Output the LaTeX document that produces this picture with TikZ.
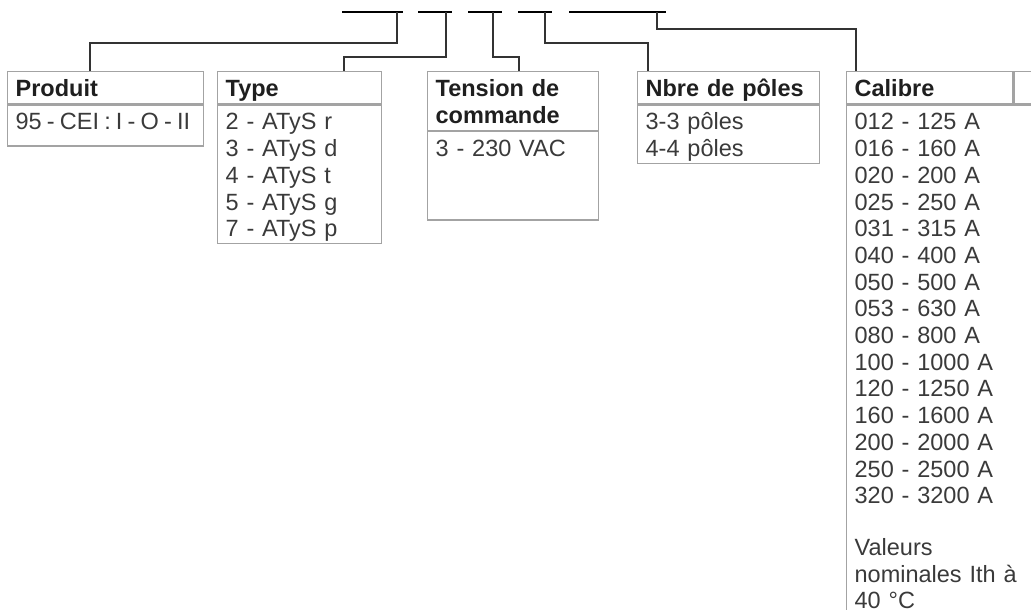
\documentclass[tikz,border=0pt]{standalone}
\usepackage{fontspec}
\setmainfont{Liberation Sans}
\definecolor{rahmen}{HTML}{A3A3A3}
\definecolor{schrift}{HTML}{3A3A3A}
\definecolor{linie}{HTML}{333333}

\tikzset{
	kopf/.style={draw=rahmen, line width=1.3pt, anchor=north west, inner xsep=8pt, inner ysep=0pt,
		align=left, text height=25pt, text depth=7pt, text=black!88,
		font=\fontsize{23.5}{26.7}\selectfont\bfseries},
	liste/.style={kopf, text=schrift, font=\fontsize{23.5}{26.7}\selectfont},
	link/.style={draw=linie, line width=1.3pt},
	balken/.style={draw=black, line width=2.6pt}
}

\begin{document}
\begin{tikzpicture}[x=1pt,y=-1pt]
		\clip (0,0) rectangle (1031,610);
		% Balken oben
		\draw[balken] (342,12) -- (403,12);
		\draw[balken] (418,12) -- (452,12);
		\draw[balken] (468,12) -- (502,12);
		\draw[balken] (518,12) -- (552,12);
		\draw[balken] (569,12) -- (666,12);
		\coordinate (t1) at (397,12);
		\coordinate (t2) at (446,12);
		\coordinate (t3) at (493,12);
		\coordinate (t4) at (545,12);
		\coordinate (t5) at (657,12);
		% Kaesten
		\node[kopf, text width=180pt] (prod) at (7,71) {Produit};
		\node[liste, text width=180pt, text depth=16pt] (prodliste) at (prod.south west) {\spaceskip=0.22em\mbox{95 - CEI : I - O - II}};
		\node[kopf, text width=148pt] (typ) at (217,71) {Type};
		\node[liste, text width=148pt, text depth=113.8pt] (typliste) at (typ.south west) {2 - ATyS r\\3 - ATyS d\\4 - ATyS t\\5 - ATyS g\\7 - ATyS p};
		\node[kopf, text width=155pt, text depth=33.7pt] (span) at (427,71) {Tension de\\commande};
		\node[liste, text width=155pt, text depth=63.3pt] (spanliste) at (span.south west) {3 - 230 VAC};
		\node[kopf, text width=166pt] (pole) at (637,71) {Nbre de p\^oles};
		\node[liste, text width=166pt, text depth=33.7pt] (poleliste) at (pole.south west) {3-3 p\^oles\\4-4 p\^oles};
		\node[kopf, text width=150pt] (cal) at (846,71) {Calibre};
		\node[kopf, text width=84pt] (calx) at (cal.north east) {};
		\node[liste, text width=244pt, text depth=560pt] (calliste) at (cal.south west) {012 - 125 A\\016 - 160 A\\020 - 200 A\\025 - 250 A\\031 - 315 A\\040 - 400 A\\050 - 500 A\\053 - 630 A\\080 - 800 A\\100 - 1000 A\\120 - 1250 A\\160 - 1600 A\\200 - 2000 A\\250 - 2500 A\\320 - 3200 A\\[25pt]Valeurs\\nominales Ith \`a\\40 °C};
		% Verbindungen
		\draw[link] (t1) -- ++(0,31) -| ([xshift=83pt]prod.north west);
		\draw[link] (t2) -- ++(0,45) -| ([xshift=127pt]typ.north west);
		\draw[link] (t3) -- ++(0,45) -| ([xshift=92pt]span.north west);
		\draw[link] (t4) -- ++(0,31) -| ([xshift=11pt]pole.north west);
		\draw[link] (t5) -- ++(0,17) -| ([xshift=10pt]cal.north west);
\end{tikzpicture}
\end{document}
